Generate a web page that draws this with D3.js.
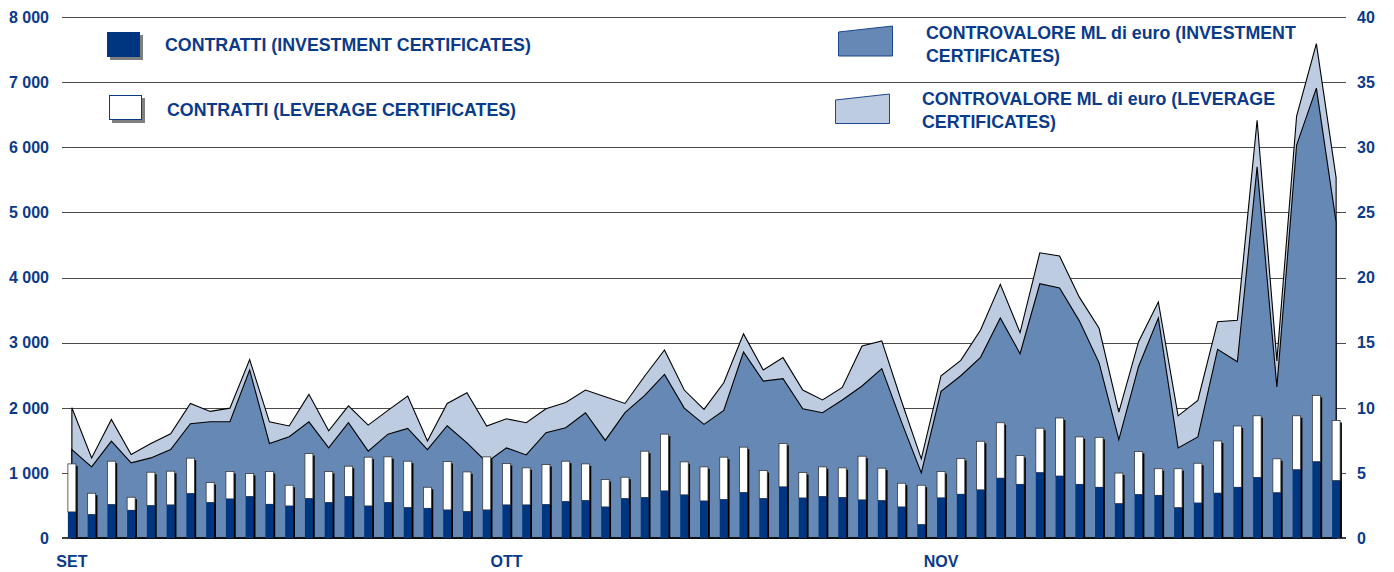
<!DOCTYPE html>
<html>
<head>
<meta charset="utf-8">
<script src="https://cdn.jsdelivr.net/npm/d3@7"></script>
<style>
  body { margin: 0; background: #fff; }
  text { font-family: "Liberation Sans", Arial, sans-serif; font-weight: bold; fill: #0a3a88; }
</style>
</head>
<body>
<div id="chart"></div>
<script>
// Contratti e controvalore giornalieri, SET - NOV

// numero contratti (asse sinistro)
var contrattiInvestment = [400, 359, 513, 426, 497, 508, 682, 544, 600, 636, 518, 492, 605, 544, 636, 492, 544, 467, 456, 431, 405, 431,
  508, 508, 513, 559, 574, 477, 605, 621, 723, 662, 569, 590, 697, 605, 785, 615, 636, 621, 585, 574, 477, 205,
  616, 672, 739, 919, 824, 1003, 952, 824, 779, 527, 667, 655, 465, 538, 689, 779, 930, 695, 1048, 1171, 880];
var contrattiLeverage = [738, 328, 666, 200, 513, 518, 544, 307, 421, 354, 503, 318, 692, 477, 467, 749, 702, 712, 323, 743, 610, 815,
  636, 569, 615, 620, 564, 420, 328, 712, 872, 507, 523, 651, 698, 431, 666, 390, 456, 456, 671, 498, 364, 605,
  404, 549, 746, 851, 442, 683, 891, 728, 767, 470, 661, 409, 599, 610, 801, 941, 947, 521, 829, 1019, 924];

// controvalore in ML di euro (asse destro)
var controvaloreInvestment = [6.79, 5.46, 7.44, 5.77, 6.15, 6.79, 8.77, 8.92, 8.92, 12.9, 7.26, 7.77, 8.92, 6.92, 8.85, 6.67, 7.97, 8.41, 6.79, 8.62, 7.31, 5.82,
  6.92, 6.38, 8.08, 8.46, 9.62, 7.49, 9.62, 10.95, 12.56, 9.97, 8.72, 9.8, 14.28, 12.05, 12.23, 9.92, 9.62, 10.6, 11.67, 13.0, 8.9, 5.0,
  11.26, 12.46, 13.87, 16.89, 14.15, 19.52, 19.19, 16.67, 13.45, 7.56, 13.17, 16.89, 6.92, 7.76, 14.48, 13.53, 28.49, 11.6, 30.17, 34.54, 24.23];
var controvaloreLeverage = [3.21, 0.69, 1.66, 0.64, 1.11, 1.21, 1.56, 0.8, 1.05, 0.8, 1.66, 0.83, 2.11, 1.31, 1.3, 2.0, 1.83, 2.49, 0.65, 1.71, 3.84, 2.77,
  2.23, 2.47, 1.84, 1.94, 1.74, 3.36, 0.71, 1.49, 1.88, 1.39, 1.15, 2.12, 1.39, 0.85, 1.62, 1.44, 0.98, 0.96, 3.07, 2.13, 1.6, 1.08,
  1.2, 1.18, 2.1, 2.58, 1.62, 2.38, 2.46, 1.82, 2.65, 2.1, 1.9, 1.23, 2.46, 2.8, 2.13, 3.19, 3.58, 2.0, 2.23, 3.42, 3.42];

var mesi = [{ label: "SET", index: 0 }, { label: "OTT", index: 22 }, { label: "NOV", index: 44 }];
var ticksLeft = [0, 1000, 2000, 3000, 4000, 5000, 6000, 7000, 8000];
var ticksRight = [0, 5, 10, 15, 20, 25, 30, 35, 40];

var width = 1394, height = 572;
var margin = { top: 17, left: 62, right: 48, bottom: 34 };

var colInvest = "#00367f",
    colArea = "#6688b5",
    colAreaLight = "#bdcce0";

var days = d3.range(contrattiInvestment.length);

var svg = d3.select("#chart").append("svg")
    .attr("width", width)
    .attr("height", height);

var x = d3.scalePoint()
    .domain(days)
    .range([margin.left, width - margin.right])
    .padding(0.5);

var yLeft = d3.scaleLinear()
    .domain([0, 8000])
    .range([height - margin.bottom, margin.top]);

var yRight = d3.scaleLinear()
    .domain([0, 40])
    .range([height - margin.bottom, margin.top]);

// Gridlines
svg.append("g")
    .selectAll("line")
    .data(ticksLeft.slice(1))
  .enter().append("line")
    .attr("x1", margin.left)
    .attr("x2", width - margin.right)
    .attr("y1", function(d) { return Math.round(yLeft(d)) + 0.5; })
    .attr("y2", function(d) { return Math.round(yLeft(d)) + 0.5; })
    .style("stroke", "#4a4a4a")
    .style("stroke-width", 1.2);

// Areas (controvalore)
var areaTotal = d3.area()
    .x(function(d) { return x(d); })
    .y0(yRight(0))
    .y1(function(d) { return yRight(controvaloreInvestment[d] + controvaloreLeverage[d]); });

var areaInvest = d3.area()
    .x(function(d) { return x(d); })
    .y0(yRight(0))
    .y1(function(d) { return yRight(controvaloreInvestment[d]); });

svg.append("path")
    .datum(days)
    .attr("d", function(d) { return areaTotal(d) + "Z"; })
    .style("fill", colAreaLight)
    .style("stroke", "#000")
    .style("stroke-width", 1.1)
    .style("stroke-linejoin", "miter");

svg.append("path")
    .datum(days)
    .attr("d", function(d) { return areaInvest(d) + "Z"; })
    .style("fill", colArea)
    .style("stroke", "#000")
    .style("stroke-width", 1.1)
    .style("stroke-linejoin", "miter");

// zero line
svg.append("line")
    .attr("x1", margin.left)
    .attr("x2", width - margin.right)
    .attr("y1", yLeft(0))
    .attr("y2", yLeft(0))
    .style("stroke", "#000")
    .style("stroke-width", 1.5);

// Bars (contratti)
var barW = 8;

var bar = svg.append("g")
    .selectAll("g")
    .data(days)
  .enter().append("g");

bar.append("rect")
    .attr("x", function(d) { return x(d) - barW / 2 + 1.8; })
    .attr("y", function(d) { return yLeft(contrattiInvestment[d] + contrattiLeverage[d]) + 2; })
    .attr("width", barW)
    .attr("height", function(d) { return yLeft(0) - yLeft(contrattiInvestment[d] + contrattiLeverage[d]) - 2; })
    .style("fill", "#000");

bar.append("rect")
    .attr("x", function(d) { return x(d) - barW / 2; })
    .attr("y", function(d) { return yLeft(contrattiInvestment[d] + contrattiLeverage[d]); })
    .attr("width", barW)
    .attr("height", function(d) { return yLeft(contrattiInvestment[d]) - yLeft(contrattiInvestment[d] + contrattiLeverage[d]); })
    .style("fill", "#fff")
    .style("stroke", "#3a3a3a")
    .style("stroke-width", 0.8);

bar.append("rect")
    .attr("x", function(d) { return x(d) - barW / 2; })
    .attr("y", function(d) { return yLeft(contrattiInvestment[d]); })
    .attr("width", barW)
    .attr("height", function(d) { return yLeft(0) - yLeft(contrattiInvestment[d]); })
    .style("fill", colInvest);

// Axis labels
var fmt = function(d) { return d3.format(",")(d).replace(",", " "); };

svg.append("g")
    .selectAll("text")
    .data(ticksLeft)
  .enter().append("text")
    .attr("x", 49)
    .attr("y", function(d) { return yLeft(d); })
    .attr("dy", "0.36em")
    .attr("text-anchor", "end")
    .style("font-size", "16px")
    .text(fmt);

svg.append("g")
    .selectAll("text")
    .data(ticksRight)
  .enter().append("text")
    .attr("x", 1357)
    .attr("y", function(d) { return yRight(d); })
    .attr("dy", "0.36em")
    .style("font-size", "16px")
    .text(function(d) { return d; });

svg.append("g")
    .selectAll("text")
    .data(mesi)
  .enter().append("text")
    .attr("x", function(d) { return x(d.index); })
    .attr("y", 567)
    .attr("text-anchor", "middle")
    .style("font-size", "16px")
    .text(function(d) { return d.label; });

// Legend
var legend = svg.append("g");

legend.append("rect").attr("x", 110).attr("y", 35).attr("width", 33).attr("height", 25).style("fill", "#808080");
legend.append("rect").attr("x", 107).attr("y", 32).attr("width", 33).attr("height", 25).style("fill", colInvest);
legend.append("rect").attr("x", 112).attr("y", 98).attr("width", 33).attr("height", 25).style("fill", "#808080");
legend.append("rect").attr("x", 109.5).attr("y", 95.5).attr("width", 32).attr("height", 24)
    .style("fill", "#fff").style("stroke", "#0b3a86").style("stroke-width", 1);

legend.append("path")
    .attr("d", "M838.5,32L892.5,26L892.5,56L838.5,56Z")
    .style("fill", colArea).style("stroke", "#1c4690").style("stroke-width", 1);
legend.append("path")
    .attr("d", "M835.5,100L889.5,94L889.5,123.5L835.5,123.5Z")
    .style("fill", colAreaLight).style("stroke", "#1c4690").style("stroke-width", 1);

var legendText = [
  { x: 165, y: 51, t: "CONTRATTI (INVESTMENT CERTIFICATES)" },
  { x: 167, y: 116, t: "CONTRATTI (LEVERAGE CERTIFICATES)" },
  { x: 926, y: 39, t: "CONTROVALORE ML di euro (INVESTMENT" },
  { x: 926, y: 62, t: "CERTIFICATES)" },
  { x: 922, y: 105, t: "CONTROVALORE ML di euro (LEVERAGE" },
  { x: 922, y: 128, t: "CERTIFICATES)" }
];

legend.selectAll("text.leg")
    .data(legendText)
  .enter().append("text")
    .attr("class", "leg")
    .attr("x", function(d) { return d.x; })
    .attr("y", function(d) { return d.y; })
    .style("font-size", "17.8px")
    .text(function(d) { return d.t; });
</script>
</body>
</html>
